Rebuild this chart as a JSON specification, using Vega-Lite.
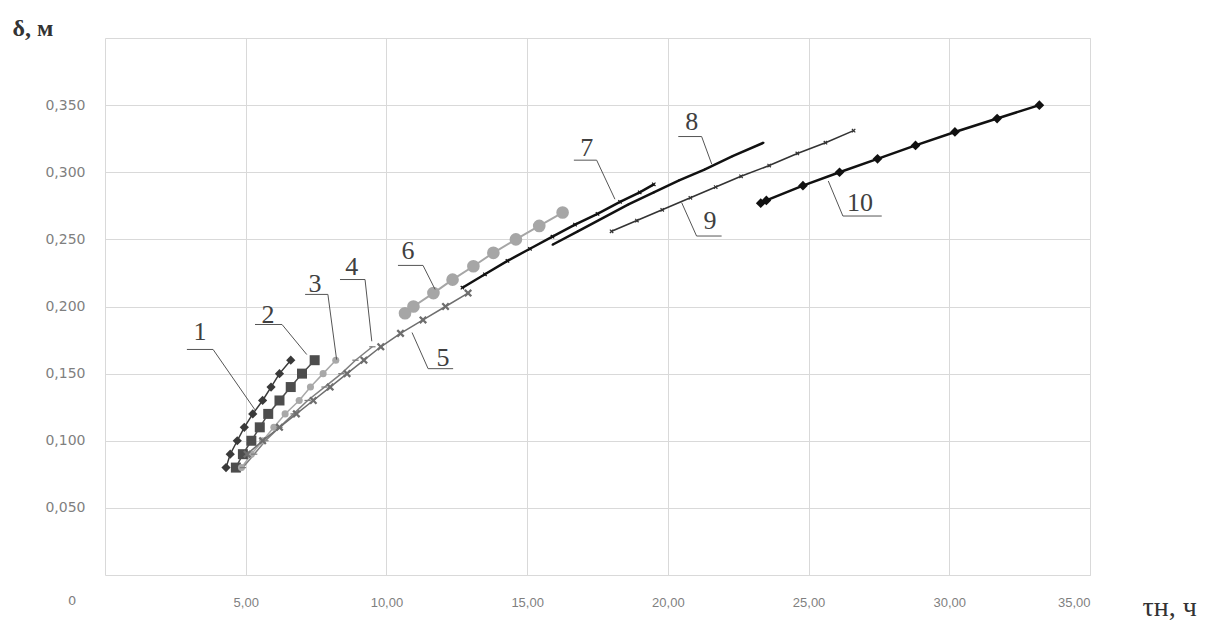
{
  "$schema": "https://vega.github.io/schema/vega-lite/v6.json",
  "width": 985,
  "height": 537,
  "autosize": {"type": "none"},
  "padding": {"left": 105, "top": 38, "right": 125, "bottom": 49},
  "background": "white",
  "config": {
    "view": {"stroke": "#d9d9d9", "strokeWidth": 1},
    "axis": {"gridColor": "#d9d9d9", "gridWidth": 1, "domain": false, "ticks": false, "labelColor": "#7f7f7f"}
  },
  "datasets": {
    "pts": [
      {"s": 1, "x": 4.3, "y": 0.08}, {"s": 1, "x": 4.45, "y": 0.09}, {"s": 1, "x": 4.7, "y": 0.10}, {"s": 1, "x": 4.95, "y": 0.11}, {"s": 1, "x": 5.25, "y": 0.12}, {"s": 1, "x": 5.6, "y": 0.13}, {"s": 1, "x": 5.9, "y": 0.14}, {"s": 1, "x": 6.2, "y": 0.15}, {"s": 1, "x": 6.6, "y": 0.16},
      {"s": 2, "x": 4.65, "y": 0.08}, {"s": 2, "x": 4.9, "y": 0.09}, {"s": 2, "x": 5.2, "y": 0.10}, {"s": 2, "x": 5.5, "y": 0.11}, {"s": 2, "x": 5.8, "y": 0.12}, {"s": 2, "x": 6.2, "y": 0.13}, {"s": 2, "x": 6.6, "y": 0.14}, {"s": 2, "x": 7.0, "y": 0.15}, {"s": 2, "x": 7.45, "y": 0.16},
      {"s": 3, "x": 4.85, "y": 0.08}, {"s": 3, "x": 5.2, "y": 0.09}, {"s": 3, "x": 5.6, "y": 0.10}, {"s": 3, "x": 6.0, "y": 0.11}, {"s": 3, "x": 6.4, "y": 0.12}, {"s": 3, "x": 6.9, "y": 0.13}, {"s": 3, "x": 7.3, "y": 0.14}, {"s": 3, "x": 7.75, "y": 0.15}, {"s": 3, "x": 8.2, "y": 0.16},
      {"s": 4, "x": 4.9, "y": 0.08}, {"s": 4, "x": 5.3, "y": 0.09}, {"s": 4, "x": 5.7, "y": 0.10}, {"s": 4, "x": 6.2, "y": 0.11}, {"s": 4, "x": 6.7, "y": 0.12}, {"s": 4, "x": 7.2, "y": 0.13}, {"s": 4, "x": 7.8, "y": 0.14}, {"s": 4, "x": 8.4, "y": 0.15}, {"s": 4, "x": 8.9, "y": 0.16}, {"s": 4, "x": 9.5, "y": 0.17},
      {"s": 5, "x": 5.05, "y": 0.09}, {"s": 5, "x": 5.6, "y": 0.10}, {"s": 5, "x": 6.2, "y": 0.11}, {"s": 5, "x": 6.8, "y": 0.12}, {"s": 5, "x": 7.4, "y": 0.13}, {"s": 5, "x": 8.0, "y": 0.14}, {"s": 5, "x": 8.6, "y": 0.15}, {"s": 5, "x": 9.2, "y": 0.16}, {"s": 5, "x": 9.8, "y": 0.17}, {"s": 5, "x": 10.5, "y": 0.18}, {"s": 5, "x": 11.3, "y": 0.19}, {"s": 5, "x": 12.1, "y": 0.20}, {"s": 5, "x": 12.9, "y": 0.21},
      {"s": 6, "x": 10.66, "y": 0.195}, {"s": 6, "x": 10.96, "y": 0.20}, {"s": 6, "x": 11.67, "y": 0.21}, {"s": 6, "x": 12.35, "y": 0.22}, {"s": 6, "x": 13.09, "y": 0.23}, {"s": 6, "x": 13.8, "y": 0.24}, {"s": 6, "x": 14.6, "y": 0.25}, {"s": 6, "x": 15.43, "y": 0.26}, {"s": 6, "x": 16.26, "y": 0.27},
      {"s": 7, "x": 12.7, "y": 0.214}, {"s": 7, "x": 13.5, "y": 0.224}, {"s": 7, "x": 14.3, "y": 0.234}, {"s": 7, "x": 15.1, "y": 0.243}, {"s": 7, "x": 15.9, "y": 0.252}, {"s": 7, "x": 16.7, "y": 0.261}, {"s": 7, "x": 17.5, "y": 0.269}, {"s": 7, "x": 18.3, "y": 0.278}, {"s": 7, "x": 19.0, "y": 0.285}, {"s": 7, "x": 19.5, "y": 0.291},
      {"s": 8, "x": 15.9, "y": 0.246}, {"s": 8, "x": 16.8, "y": 0.256}, {"s": 8, "x": 17.7, "y": 0.266}, {"s": 8, "x": 18.6, "y": 0.276}, {"s": 8, "x": 19.5, "y": 0.285}, {"s": 8, "x": 20.4, "y": 0.294}, {"s": 8, "x": 21.3, "y": 0.302}, {"s": 8, "x": 22.3, "y": 0.312}, {"s": 8, "x": 23.4, "y": 0.322},
      {"s": 9, "x": 18.0, "y": 0.256}, {"s": 9, "x": 18.9, "y": 0.264}, {"s": 9, "x": 19.8, "y": 0.272}, {"s": 9, "x": 20.8, "y": 0.281}, {"s": 9, "x": 21.7, "y": 0.289}, {"s": 9, "x": 22.6, "y": 0.297}, {"s": 9, "x": 23.6, "y": 0.305}, {"s": 9, "x": 24.6, "y": 0.314}, {"s": 9, "x": 25.6, "y": 0.322}, {"s": 9, "x": 26.6, "y": 0.331},
      {"s": 10, "x": 23.3, "y": 0.277}, {"s": 10, "x": 23.5, "y": 0.279}, {"s": 10, "x": 24.8, "y": 0.29}, {"s": 10, "x": 26.1, "y": 0.30}, {"s": 10, "x": 27.45, "y": 0.31}, {"s": 10, "x": 28.8, "y": 0.32}, {"s": 10, "x": 30.2, "y": 0.33}, {"s": 10, "x": 31.7, "y": 0.34}, {"s": 10, "x": 33.2, "y": 0.35}
    ],
    "leaders": [
      {"id": 1, "o": 1, "x": 2.91, "y": 0.168}, {"id": 1, "o": 2, "x": 3.84, "y": 0.168}, {"id": 1, "o": 3, "x": 5.33, "y": 0.123},
      {"id": 2, "o": 1, "x": 5.33, "y": 0.1866}, {"id": 2, "o": 2, "x": 6.29, "y": 0.1866}, {"id": 2, "o": 3, "x": 7.17, "y": 0.1642},
      {"id": 3, "o": 1, "x": 7.11, "y": 0.209}, {"id": 3, "o": 2, "x": 7.92, "y": 0.209}, {"id": 3, "o": 3, "x": 8.23, "y": 0.1604},
      {"id": 4, "o": 1, "x": 8.35, "y": 0.2201}, {"id": 4, "o": 2, "x": 9.24, "y": 0.2201}, {"id": 4, "o": 3, "x": 9.48, "y": 0.1741},
      {"id": 5, "o": 1, "x": 10.91, "y": 0.1806}, {"id": 5, "o": 2, "x": 11.48, "y": 0.1537}, {"id": 5, "o": 3, "x": 12.37, "y": 0.1537},
      {"id": 6, "o": 1, "x": 10.41, "y": 0.2306}, {"id": 6, "o": 2, "x": 11.3, "y": 0.2306}, {"id": 6, "o": 3, "x": 11.73, "y": 0.2127},
      {"id": 7, "o": 1, "x": 16.66, "y": 0.309}, {"id": 7, "o": 2, "x": 17.47, "y": 0.309}, {"id": 7, "o": 3, "x": 18.12, "y": 0.2799},
      {"id": 8, "o": 1, "x": 20.37, "y": 0.3266}, {"id": 8, "o": 2, "x": 21.2, "y": 0.3266}, {"id": 8, "o": 3, "x": 21.56, "y": 0.306},
      {"id": 9, "o": 1, "x": 20.49, "y": 0.2774}, {"id": 9, "o": 2, "x": 21.02, "y": 0.2525}, {"id": 9, "o": 3, "x": 21.91, "y": 0.2525},
      {"id": 10, "o": 1, "x": 25.7, "y": 0.2935}, {"id": 10, "o": 2, "x": 26.22, "y": 0.2674}, {"id": 10, "o": 3, "x": 27.6, "y": 0.2674}
    ],
    "labels": [
      {"t": "1", "x": 3.38, "y": 0.1813}, {"t": "2", "x": 5.79, "y": 0.194}, {"t": "3", "x": 7.46, "y": 0.2164}, {"t": "4", "x": 8.77, "y": 0.2291},
      {"t": "5", "x": 12.01, "y": 0.1619}, {"t": "6", "x": 10.77, "y": 0.241}, {"t": "7", "x": 17.12, "y": 0.3184}, {"t": "8", "x": 20.85, "y": 0.3371},
      {"t": "9", "x": 21.5, "y": 0.2637}, {"t": "10", "x": 26.83, "y": 0.2774}
    ],
    "zero": [{"t": "0", "x": -1.17, "y": -0.0194}]
  },
  "layer": [
    {
      "data": {"name": "pts"},
      "mark": {"type": "line", "clip": false},
      "encoding": {
        "x": {"field": "x", "type": "quantitative", "scale": {"domain": [0, 35], "nice": false, "zero": false},
          "axis": {"values": [5, 10, 15, 20, 25, 30, 35], "labelExpr": "replace(format(datum.value, '.2f'), '.', ',')", "labelFont": "Liberation Sans", "labelFontSize": 13, "labelPadding": 21,
            "title": "τн, ч", "titleFont": "Liberation Serif", "titleFontSize": 28, "titleFontWeight": "normal", "titleColor": "#333333", "titleAlign": "left", "titleAnchor": null, "titleX": 1037, "titleY": 32, "titleBaseline": "middle"}},
        "y": {"field": "y", "type": "quantitative", "scale": {"domain": [0, 0.4], "nice": false},
          "axis": {"values": [0.05, 0.1, 0.15, 0.2, 0.25, 0.3, 0.35], "labelExpr": "replace(format(datum.value, '.3f'), '.', ',')", "labelFont": "DejaVu Sans", "labelFontSize": 14, "labelPadding": 20,
            "title": "δ, м", "titleFont": "Liberation Serif", "titleFontSize": 24, "titleFontWeight": "bold", "titleColor": "#333333", "titleAngle": 0, "titleAlign": "left", "titleAnchor": null, "titleX": -93, "titleY": -10, "titleBaseline": "middle"}},
        "detail": {"field": "s", "type": "nominal"},
        "color": {"field": "s", "type": "nominal", "legend": null, "scale": {"domain": [1, 2, 3, 4, 5, 6, 7, 8, 9, 10], "range": ["#3a3a3a", "#4d4d4d", "#a8a8a8", "#7f7f7f", "#6e6e6e", "#a6a6a6", "#111111", "#111111", "#333333", "#111111"]}},
        "strokeWidth": {"field": "s", "type": "ordinal", "legend": null, "scale": {"type": "ordinal", "domain": [1, 2, 3, 4, 5, 6, 7, 8, 9, 10], "range": [1.5, 1.5, 1.5, 1.5, 1.5, 2, 2.5, 2.5, 1.6, 2.5]}},
        "order": {"field": "x", "type": "quantitative"}
      }
    },
    {
      "data": {"name": "pts"},
      "mark": {"type": "point", "filled": true, "opacity": 1},
      "encoding": {
        "x": {"field": "x", "type": "quantitative"},
        "y": {"field": "y", "type": "quantitative"},
        "color": {"field": "s", "type": "nominal", "legend": null},
        "shape": {"field": "s", "type": "nominal", "legend": null, "scale": {"domain": [1, 2, 3, 4, 5, 6, 7, 8, 9, 10], "range": ["diamond", "square", "circle", "M-1,-0.2L1,-0.2L1,0.2L-1,0.2Z", "M-1,-0.6L-0.6,-1L0,-0.4L0.6,-1L1,-0.6L0.4,0L1,0.6L0.6,1L0,0.4L-0.6,1L-1,0.6L-0.4,0Z", "circle", "M-1,-0.6L-0.6,-1L0,-0.4L0.6,-1L1,-0.6L0.4,0L1,0.6L0.6,1L0,0.4L-0.6,1L-1,0.6L-0.4,0Z", "circle", "M-1,-0.6L-0.6,-1L0,-0.4L0.6,-1L1,-0.6L0.4,0L1,0.6L0.6,1L0,0.4L-0.6,1L-1,0.6L-0.4,0Z", "diamond"]}},
        "size": {"field": "s", "type": "ordinal", "legend": null, "scale": {"type": "ordinal", "domain": [1, 2, 3, 4, 5, 6, 7, 8, 9, 10], "range": [85, 100, 50, 40, 65, 160, 18, 4, 18, 95]}}
      }
    },
    {
      "data": {"name": "leaders"},
      "mark": {"type": "line", "color": "#555555", "strokeWidth": 1},
      "encoding": {
        "x": {"field": "x", "type": "quantitative"},
        "y": {"field": "y", "type": "quantitative"},
        "detail": {"field": "id", "type": "nominal"},
        "order": {"field": "o", "type": "quantitative"}
      }
    },
    {
      "data": {"name": "labels"},
      "mark": {"type": "text", "font": "Liberation Serif", "fontSize": 26, "color": "#404040", "align": "center", "baseline": "middle"},
      "encoding": {
        "x": {"field": "x", "type": "quantitative"},
        "y": {"field": "y", "type": "quantitative"},
        "text": {"field": "t", "type": "nominal"}
      }
    },
    {
      "data": {"name": "zero"},
      "mark": {"type": "text", "font": "DejaVu Sans", "fontSize": 13, "color": "#7f7f7f", "align": "center", "baseline": "middle"},
      "encoding": {
        "x": {"field": "x", "type": "quantitative"},
        "y": {"field": "y", "type": "quantitative"},
        "text": {"field": "t", "type": "nominal"}
      }
    }
  ]
}
